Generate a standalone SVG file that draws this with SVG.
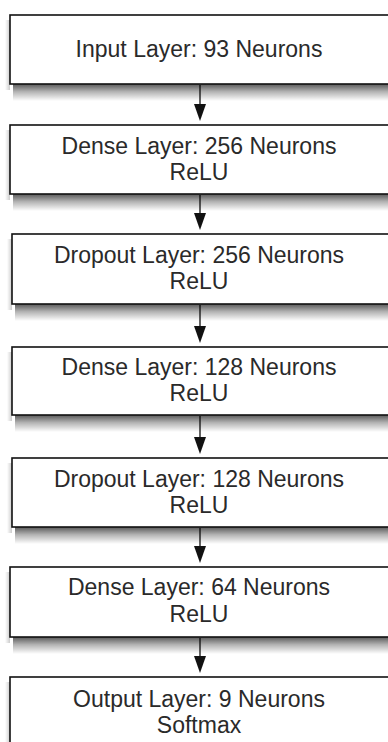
<svg xmlns="http://www.w3.org/2000/svg" width="388" height="742" viewBox="0 0 388 742">
<defs>
<linearGradient id="sg" x1="0" y1="0" x2="0" y2="1">
<stop offset="0" stop-color="#000" stop-opacity="0.65"/>
<stop offset="0.45" stop-color="#000" stop-opacity="0.3"/>
<stop offset="1" stop-color="#000" stop-opacity="0"/>
</linearGradient>
<linearGradient id="sl" x1="1" y1="0" x2="0" y2="0">
<stop offset="0" stop-color="#000" stop-opacity="0.2"/>
<stop offset="1" stop-color="#000" stop-opacity="0"/>
</linearGradient>
</defs>
<style>
.box{fill:#fff;stroke:#111;stroke-width:1.6}
.sb{fill:url(#sg)}
.sl{fill:url(#sl)}
.t{font-family:"Liberation Sans",Arial,sans-serif;font-size:23px;fill:#2a2a2a;text-anchor:middle}
.c{stroke:#222;stroke-width:1.4;fill:none}
.ah{fill:#111}
</style>
<rect width="388" height="742" fill="#fff"/>
<g id="connectors">
<line class="c" x1="200" y1="85" x2="200" y2="104"/><path class="ah" d="M194,104 L206,104 L200,121 Z"/>
<line class="c" x1="200" y1="195" x2="200" y2="213"/><path class="ah" d="M194,213 L206,213 L200,230 Z"/>
<line class="c" x1="200" y1="305" x2="200" y2="326"/><path class="ah" d="M194,326 L206,326 L200,343 Z"/>
<line class="c" x1="200" y1="416" x2="200" y2="437"/><path class="ah" d="M194,437 L206,437 L200,454 Z"/>
<line class="c" x1="200" y1="528" x2="200" y2="546"/><path class="ah" d="M194,546 L206,546 L200,563 Z"/>
<line class="c" x1="200" y1="638" x2="200" y2="656"/><path class="ah" d="M194,656 L206,656 L200,673 Z"/>
</g>
<g id="input">
<rect class="sl" x="5" y="20" width="5" height="70"/>
<rect class="sb" x="13" y="84" width="380" height="17"/>
<rect class="box" x="10" y="15" width="390" height="69"/>
<text class="t" x="199" y="57">Input Layer: 93 Neurons</text>
</g>
<g id="dense256">
<rect class="sl" x="5" y="130" width="5" height="70"/>
<rect class="sb" x="13" y="194" width="380" height="17"/>
<rect class="box" x="10" y="125" width="390" height="69"/>
<text class="t" x="199" y="154">Dense Layer: 256 Neurons</text>
<text class="t" x="199" y="180">ReLU</text>
</g>
<g id="dropout256">
<rect class="sl" x="7" y="239" width="5" height="71"/>
<rect class="sb" x="15" y="304" width="380" height="17"/>
<rect class="box" x="12" y="234" width="390" height="70"/>
<text class="t" x="199" y="263">Dropout Layer: 256 Neurons</text>
<text class="t" x="199" y="289">ReLU</text>
</g>
<g id="dense128">
<rect class="sl" x="7" y="352" width="5" height="69"/>
<rect class="sb" x="15" y="415" width="380" height="17"/>
<rect class="box" x="12" y="347" width="390" height="68"/>
<text class="t" x="199" y="375">Dense Layer: 128 Neurons</text>
<text class="t" x="199" y="401">ReLU</text>
</g>
<g id="dropout128">
<rect class="sl" x="7" y="463" width="5" height="70"/>
<rect class="sb" x="15" y="527" width="380" height="17"/>
<rect class="box" x="12" y="458" width="390" height="69"/>
<text class="t" x="199" y="487">Dropout Layer: 128 Neurons</text>
<text class="t" x="199" y="513">ReLU</text>
</g>
<g id="dense64">
<rect class="sl" x="5" y="572" width="5" height="71"/>
<rect class="sb" x="13" y="637" width="380" height="17"/>
<rect class="box" x="10" y="567" width="390" height="70"/>
<text class="t" x="199" y="595">Dense Layer: 64 Neurons</text>
<text class="t" x="199" y="622">ReLU</text>
</g>
<g id="output">
<rect class="sl" x="5" y="682" width="5" height="60"/>
<rect class="box" x="10" y="677" width="390" height="80"/>
<text class="t" x="199" y="707">Output Layer: 9 Neurons</text>
<text class="t" x="199" y="733">Softmax</text>
</g>
</svg>
